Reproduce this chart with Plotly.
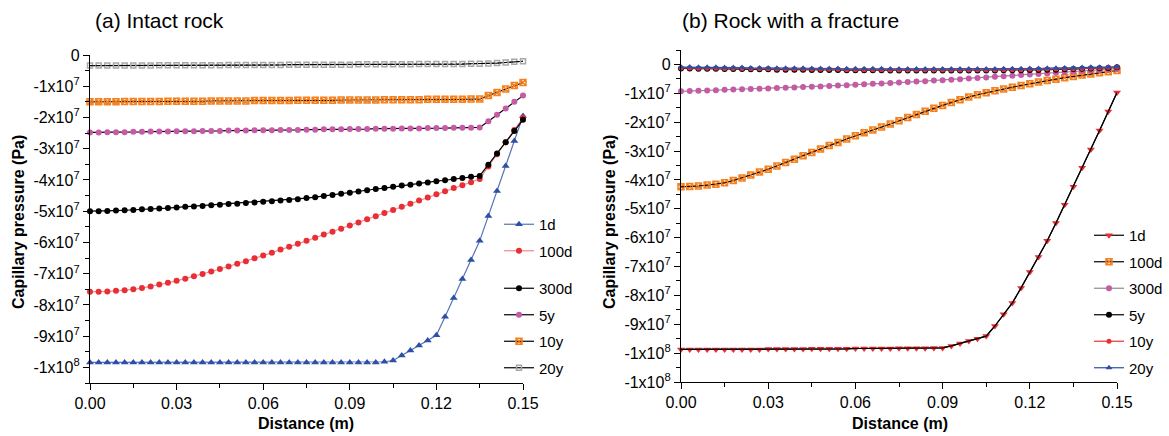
import plotly.graph_objects as go

# Distance (m)
DIST = [0.000, 0.003, 0.006, 0.009, 0.012, 0.015, 0.018, 0.021, 0.024, 0.027,
        0.030, 0.033, 0.036, 0.039, 0.042, 0.045, 0.048, 0.051, 0.054, 0.057,
        0.060, 0.063, 0.066, 0.069, 0.072, 0.075, 0.078, 0.081, 0.084, 0.087,
        0.090, 0.093, 0.096, 0.099, 0.102, 0.105, 0.108, 0.111, 0.114, 0.117,
        0.120, 0.123, 0.126, 0.129, 0.132, 0.135, 0.138, 0.141, 0.144, 0.147,
        0.150]

# Capillary pressure, in units of 1e7 Pa
# (a) Intact rock
A_1D = [-9.84, -9.84, -9.84, -9.84, -9.84, -9.84, -9.84, -9.84, -9.84, -9.84,
        -9.84, -9.84, -9.84, -9.84, -9.84, -9.84, -9.84, -9.84, -9.84, -9.84,
        -9.84, -9.84, -9.84, -9.84, -9.84, -9.84, -9.84, -9.84, -9.84, -9.84,
        -9.84, -9.84, -9.84, -9.84, -9.82, -9.78, -9.62, -9.46, -9.30, -9.14,
        -8.97, -8.38, -7.78, -7.17, -6.56, -5.95, -5.15, -4.35, -3.55, -2.75,
        -1.95]
A_100D = [-7.58, -7.58, -7.57, -7.55, -7.53, -7.50, -7.46, -7.41, -7.35, -7.29,
          -7.23, -7.16, -7.08, -7.01, -6.93, -6.85, -6.77, -6.68, -6.60, -6.51,
          -6.42, -6.33, -6.23, -6.14, -6.04, -5.95, -5.85, -5.75, -5.66, -5.56,
          -5.46, -5.36, -5.26, -5.16, -5.06, -4.96, -4.86, -4.76, -4.66, -4.56,
          -4.46, -4.36, -4.26, -4.17, -4.07, -3.97, -3.57, -3.18, -2.79, -2.40,
          -2.01]
A_300D = [-5.00, -5.00, -4.99, -4.98, -4.97, -4.96, -4.94, -4.93, -4.91, -4.90,
          -4.88, -4.86, -4.85, -4.83, -4.81, -4.79, -4.77, -4.76, -4.74, -4.72,
          -4.70, -4.68, -4.66, -4.64, -4.62, -4.58, -4.55, -4.51, -4.48, -4.44,
          -4.41, -4.37, -4.33, -4.29, -4.26, -4.22, -4.18, -4.15, -4.11, -4.08,
          -4.04, -4.01, -3.97, -3.94, -3.90, -3.87, -3.51, -3.15, -2.79, -2.43,
          -2.07]
A_5Y = [-2.48, -2.48, -2.47, -2.47, -2.47, -2.46, -2.46, -2.45, -2.45, -2.45,
        -2.44, -2.44, -2.44, -2.43, -2.43, -2.43, -2.42, -2.42, -2.42, -2.41,
        -2.41, -2.41, -2.40, -2.40, -2.40, -2.39, -2.39, -2.38, -2.38, -2.38,
        -2.37, -2.37, -2.37, -2.36, -2.36, -2.36, -2.35, -2.35, -2.35, -2.34,
        -2.34, -2.34, -2.33, -2.33, -2.33, -2.32, -2.12, -1.91, -1.71, -1.50,
        -1.30]
A_10Y = [-1.50, -1.50, -1.50, -1.50, -1.49, -1.49, -1.49, -1.49, -1.49, -1.48,
         -1.48, -1.48, -1.48, -1.48, -1.47, -1.47, -1.47, -1.47, -1.47, -1.46,
         -1.46, -1.46, -1.46, -1.46, -1.45, -1.45, -1.45, -1.45, -1.45, -1.44,
         -1.44, -1.44, -1.44, -1.44, -1.43, -1.43, -1.43, -1.43, -1.43, -1.42,
         -1.42, -1.42, -1.42, -1.42, -1.41, -1.41, -1.30, -1.20, -1.09, -0.98,
         -0.88]
A_20Y = [-0.34, -0.34, -0.34, -0.34, -0.34, -0.34, -0.34, -0.34, -0.33, -0.33,
         -0.33, -0.33, -0.33, -0.33, -0.33, -0.33, -0.32, -0.32, -0.32, -0.32,
         -0.32, -0.32, -0.32, -0.31, -0.31, -0.31, -0.31, -0.31, -0.31, -0.31,
         -0.31, -0.30, -0.30, -0.30, -0.30, -0.30, -0.30, -0.30, -0.29, -0.29,
         -0.29, -0.29, -0.29, -0.29, -0.28, -0.28, -0.27, -0.26, -0.24, -0.22,
         -0.20]

# (b) Rock with a fracture
B_1D = [-9.87, -9.87, -9.87, -9.87, -9.87, -9.87, -9.87, -9.87, -9.87, -9.87,
        -9.86, -9.86, -9.86, -9.86, -9.86, -9.85, -9.85, -9.85, -9.85, -9.85,
        -9.84, -9.84, -9.84, -9.84, -9.84, -9.83, -9.83, -9.83, -9.83, -9.82,
        -9.82, -9.75, -9.67, -9.58, -9.50, -9.41, -9.06, -8.65, -8.26, -7.74,
        -7.19, -6.67, -6.11, -5.49, -4.86, -4.24, -3.58, -2.95, -2.29, -1.63,
        -0.97]
B_100D = [-4.24, -4.23, -4.21, -4.18, -4.15, -4.10, -4.02, -3.93, -3.83, -3.73,
          -3.63, -3.52, -3.40, -3.28, -3.16, -3.05, -2.93, -2.81, -2.70, -2.58,
          -2.47, -2.37, -2.27, -2.17, -2.06, -1.95, -1.84, -1.73, -1.62, -1.52,
          -1.42, -1.32, -1.22, -1.13, -1.05, -0.98, -0.91, -0.85, -0.79, -0.73,
          -0.67, -0.61, -0.56, -0.51, -0.46, -0.42, -0.37, -0.33, -0.29, -0.25,
          -0.21]
B_300D = [-0.93, -0.92, -0.91, -0.90, -0.89, -0.88, -0.87, -0.86, -0.85, -0.84,
          -0.83, -0.82, -0.81, -0.80, -0.78, -0.77, -0.76, -0.75, -0.73, -0.72,
          -0.70, -0.69, -0.67, -0.66, -0.64, -0.63, -0.61, -0.59, -0.58, -0.56,
          -0.55, -0.53, -0.51, -0.49, -0.47, -0.45, -0.43, -0.41, -0.39, -0.37,
          -0.35, -0.33, -0.31, -0.29, -0.27, -0.25, -0.23, -0.21, -0.19, -0.17,
          -0.15]
B_5Y = [-0.14, -0.14, -0.15, -0.15, -0.15, -0.16, -0.16, -0.16, -0.17, -0.17,
        -0.17, -0.18, -0.18, -0.18, -0.18, -0.19, -0.19, -0.19, -0.19, -0.20,
        -0.20, -0.20, -0.20, -0.20, -0.21, -0.21, -0.21, -0.21, -0.21, -0.21,
        -0.21, -0.21, -0.21, -0.21, -0.21, -0.21, -0.21, -0.20, -0.20, -0.20,
        -0.19, -0.19, -0.18, -0.18, -0.17, -0.16, -0.15, -0.14, -0.13, -0.12,
        -0.10]
B_10Y = [-0.12, -0.12, -0.13, -0.13, -0.13, -0.14, -0.14, -0.14, -0.15, -0.15,
         -0.15, -0.16, -0.16, -0.16, -0.16, -0.17, -0.17, -0.17, -0.17, -0.18,
         -0.18, -0.18, -0.18, -0.18, -0.19, -0.19, -0.19, -0.19, -0.19, -0.19,
         -0.19, -0.19, -0.19, -0.19, -0.19, -0.19, -0.19, -0.18, -0.18, -0.18,
         -0.17, -0.17, -0.16, -0.16, -0.15, -0.15, -0.14, -0.13, -0.12, -0.11,
         -0.10]
B_20Y = [-0.09, -0.09, -0.10, -0.10, -0.10, -0.11, -0.11, -0.11, -0.12, -0.12,
         -0.12, -0.13, -0.13, -0.13, -0.13, -0.14, -0.14, -0.14, -0.14, -0.15,
         -0.15, -0.15, -0.15, -0.15, -0.16, -0.16, -0.16, -0.16, -0.16, -0.16,
         -0.16, -0.16, -0.16, -0.16, -0.16, -0.16, -0.16, -0.15, -0.15, -0.15,
         -0.14, -0.14, -0.13, -0.13, -0.12, -0.12, -0.11, -0.10, -0.10, -0.09,
         -0.08]

SERIES_NAMES = ["1d", "100d", "300d", "5y", "10y", "20y"]
X_TICKS = [0.00, 0.03, 0.06, 0.09, 0.12, 0.15]
A_YTICKS = [0, -1e7, -2e7, -3e7, -4e7, -5e7, -6e7, -7e7, -8e7, -9e7, -1e8]
A_YLABELS = ["0", "-1x10<sup>7</sup>", "-2x10<sup>7</sup>", "-3x10<sup>7</sup>",
             "-4x10<sup>7</sup>", "-5x10<sup>7</sup>", "-6x10<sup>7</sup>",
             "-7x10<sup>7</sup>", "-8x10<sup>7</sup>", "-9x10<sup>7</sup>",
             "-1x10<sup>8</sup>"]
B_YTICKS = [0, -1e7, -2e7, -3e7, -4e7, -5e7, -6e7, -7e7, -8e7, -9e7, -1e8, -1.1e8]
B_YLABELS = ["0", "-1x10<sup>7</sup>", "-2x10<sup>7</sup>", "-3x10<sup>7</sup>",
             "-4x10<sup>7</sup>", "-5x10<sup>7</sup>", "-6x10<sup>7</sup>",
             "-7x10<sup>7</sup>", "-8x10<sup>7</sup>", "-9x10<sup>7</sup>",
             "-1x10<sup>8</sup>", "-1x10<sup>8</sup>"]

SCALE = 1e7
BLUE = "#2D4FA5"
RED = "#EA2E35"
ORANGE = "#F58220"
PINK = "#C65AA6"
GREY = "#A8A8A8"

FONT = "Liberation Sans, Arial, sans-serif"
W, H = 1169, 436


def pa(vals):
    return [v * SCALE for v in vals]


fig = go.Figure()


def add(x, y, name, xa, ya, legend, group, line_color, line_width,
        symbol, mcolor, msize, mline_w=0, mline_c=None, showlegend=True):
    fig.add_trace(go.Scatter(
        x=x, y=pa(y), name=name, xaxis=xa, yaxis=ya, mode="lines+markers",
        legend=legend, legendgroup=group, showlegend=showlegend,
        line=dict(color=line_color, width=line_width),
        marker=dict(symbol=symbol, color=mcolor, size=msize,
                    line=dict(width=mline_w, color=mline_c or mcolor)),
        cliponaxis=False))


# Panel (a)
add(DIST, A_1D, "1d", "x", "y", "legend", "a1", "#5872B8", 1.2, "triangle-up", BLUE, 7)
add(DIST, A_100D, "100d", "x", "y", "legend", "a2", "#F08A8E", 1.2, "circle", RED, 6)
add(DIST, A_300D, "300d", "x", "y", "legend3", "a3", "black", 1.2, "circle", "black", 6)
add(DIST, A_5Y, "5y", "x", "y", "legend3", "a4", "black", 1.2, "circle", PINK, 6)
add(DIST, A_10Y, "10y", "x", "y", "legend3", "a5", "black", 1.2, "square-x-open", ORANGE, 6, 1.5)
add(DIST, A_20Y, "20y", "x", "y", "legend3", "a6", "black", 1.2, "square-open", GREY, 5, 1.5)
fig.add_trace(go.Scatter(x=DIST, y=pa(A_20Y), xaxis="x", yaxis="y", mode="lines",
                         line=dict(color="black", width=1, dash="dot"),
                         showlegend=False, hoverinfo="skip", cliponaxis=False))

# Panel (b)
add(DIST, B_1D, "1d", "x2", "y2", "legend2", "b1", "black", 1.2, "triangle-down", RED, 7)
fig.add_trace(go.Scatter(x=DIST, y=pa(B_1D), xaxis="x2", yaxis="y2", mode="lines",
                         line=dict(color="black", width=1.2),
                         showlegend=False, hoverinfo="skip", cliponaxis=False))
add(DIST, B_100D, "100d", "x2", "y2", "legend2", "b2", "black", 1.2, "square-x-open", ORANGE, 6, 1.5)
fig.add_trace(go.Scatter(x=DIST, y=pa(B_100D), xaxis="x2", yaxis="y2", mode="lines",
                         line=dict(color="black", width=1, dash="dot"),
                         showlegend=False, hoverinfo="skip", cliponaxis=False))
add(DIST, B_300D, "300d", "x2", "y2", "legend2", "b3", "#8C8C8C", 1.2, "circle", PINK, 6)
add(DIST, B_5Y, "5y", "x2", "y2", "legend2", "b4", "black", 1.2, "circle", "black", 6)
add(DIST, B_10Y, "10y", "x2", "y2", "legend2", "b5", RED, 1.2, "circle", RED, 5)
add(DIST, B_20Y, "20y", "x2", "y2", "legend2", "b6", BLUE, 1.2, "triangle-up", BLUE, 6)


def px_x(p):
    return p / W


def px_y(p):
    return 1 - p / H


axis_common = dict(showline=True, linecolor="black", linewidth=1.3, ticks="outside",
                   ticklen=6, tickwidth=1.3, tickcolor="black", showgrid=False,
                   zeroline=False, mirror=False, automargin=False,
                   tickfont=dict(family=FONT, size=16, color="black"))
xcommon = dict(axis_common, range=[0, 0.15], tickvals=X_TICKS, tickformat=".2f",
               minor=dict(dtick=0.015, tick0=0, ticks="outside", ticklen=4,
                          tickwidth=1.3, tickcolor="black", showgrid=False))
yminor = dict(dtick=5e6, tick0=0, ticks="outside", ticklen=4,
              tickwidth=1.3, tickcolor="black", showgrid=False)

legend_common = dict(font=dict(family=FONT, size=15, color="black"),
                     bgcolor="rgba(0,0,0,0)", borderwidth=0, xanchor="left",
                     yanchor="top", tracegroupgap=4, itemwidth=30)

title_font = dict(family=FONT, size=16, color="black")
annotations = [
    dict(text="(a) Intact rock", x=px_x(93), y=px_y(21), xanchor="left",
         yanchor="middle", font=dict(family=FONT, size=21, color="black")),
    dict(text="(b) Rock with a fracture", x=px_x(680), y=px_y(21), xanchor="left",
         yanchor="middle", font=dict(family=FONT, size=21, color="black")),
    dict(text="<b>Distance (m)</b>", x=px_x(306), y=px_y(423), xanchor="center",
         yanchor="middle", font=title_font),
    dict(text="<b>Distance (m)</b>", x=px_x(900), y=px_y(423), xanchor="center",
         yanchor="middle", font=title_font),
    dict(text="<b>Capillary pressure (Pa)</b>", x=px_x(19), y=px_y(222), textangle=-90,
         xanchor="center", yanchor="middle", font=title_font),
    dict(text="<b>Capillary pressure (Pa)</b>", x=px_x(610), y=px_y(222), textangle=-90,
         xanchor="center", yanchor="middle", font=title_font),
]
for a in annotations:
    a.update(xref="paper", yref="paper", showarrow=False)

fig.update_layout(
    width=W, height=H, margin=dict(l=0, r=0, t=0, b=0, autoexpand=False),
    paper_bgcolor="white", plot_bgcolor="white",
    xaxis=dict(xcommon, domain=[px_x(90), px_x(523)], anchor="y"),
    yaxis=dict(axis_common, domain=[px_y(383), px_y(55)], anchor="x",
               range=[-1.05e8, 0], tickvals=A_YTICKS, ticktext=A_YLABELS,
               minor=yminor),
    xaxis2=dict(xcommon, domain=[px_x(681), px_x(1117)], anchor="y2"),
    yaxis2=dict(axis_common, domain=[px_y(382), px_y(50)], anchor="x2",
                range=[-1.1e8, 0.5e7], tickvals=B_YTICKS, ticktext=B_YLABELS,
                minor=yminor),
    legend=dict(legend_common, x=px_x(499), y=px_y(208)),
    legend3=dict(legend_common, x=px_x(499), y=px_y(272)),
    legend2=dict(legend_common, x=px_x(1089), y=px_y(219)),
    annotations=annotations,
)

fig.write_html("out.html")
